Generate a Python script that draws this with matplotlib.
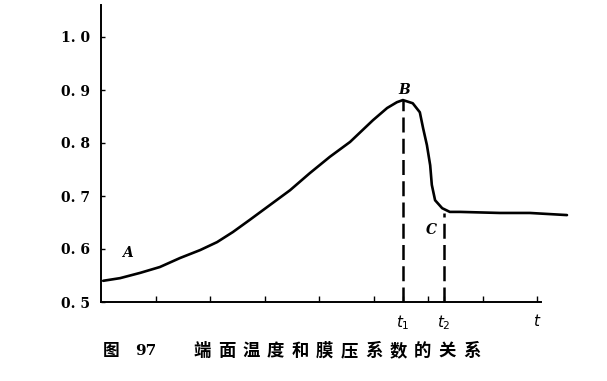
import numpy as np
import matplotlib
matplotlib.use("Agg")
import matplotlib.pyplot as plt

# ---- data ----
t_vals = [0.04, 0.35, 0.72, 1.08, 1.45, 1.82, 2.13, 2.42, 2.73, 3.10, 3.47,
          3.83, 4.20, 4.57, 4.99, 5.25, 5.43, 5.54, 5.72, 5.85, 5.91, 5.98,
          6.04, 6.07, 6.13, 6.26, 6.40, 6.59, 7.32, 7.87, 8.55]
k_vals = [0.540, 0.545, 0.555, 0.566, 0.583, 0.598, 0.613, 0.632, 0.655,
          0.683, 0.711, 0.743, 0.774, 0.802, 0.843, 0.866, 0.877, 0.881,
          0.875, 0.858, 0.828, 0.796, 0.758, 0.721, 0.692, 0.677, 0.670,
          0.670, 0.668, 0.668, 0.664]

t_marks = [5.54, 6.29]          # t1, t2
k_marks = [0.881, 0.668]        # B, C
grid_ticks = [1, 2, 3, 4, 5, 6, 7, 8]
y_ticks = [0.5, 0.6, 0.7, 0.8, 0.9, 1.0]
y_labels = ["0. 5", "0. 6", "0. 7", "0. 8", "0. 9", "1. 0"]
caption_head = ["图", "97"]
caption = "端面温度和膜压系数的关系"

W, H = 607, 381
fig = plt.figure(figsize=(W / 100, H / 100), dpi=100)
ax = fig.add_axes([101 / W, 1 - 302 / H, 440 / W, 297 / H])

ax.set_xlim(0, 440 / 54.5)
ax.set_ylim(0.5, 0.5 + 297 / 530)

# curve
ax.plot(t_vals, k_vals, color="k", lw=1.9, clip_on=False,
        solid_capstyle="round", solid_joinstyle="round")

# dashed drop lines
for t, k in zip(t_marks, k_marks):
    ax.plot([t, t], [0.5, k], color="k", lw=1.8, ls=(0, (6, 2.5)))

# spines
for s in ["top", "right"]:
    ax.spines[s].set_visible(False)
ax.spines["left"].set_linewidth(1.4)
ax.spines["bottom"].set_linewidth(1.4)

# ticks
ax.set_yticks(y_ticks)
ax.set_yticklabels(y_labels, family="DejaVu Serif", fontweight="bold",
                   fontsize=10)
ax.tick_params(axis="y", direction="in", length=3, width=1, pad=8)

xt = grid_ticks + t_marks
xl = [""] * 7 + [r"$t$"] + [r"$t_1$", r"$t_2$"]
ax.set_xticks(xt)
ax.set_xticklabels(xl, fontsize=11)
ax.tick_params(axis="x", direction="in", length=4, width=1, pad=8)

# point labels
ax.text(0.38, 0.585, "A", style="italic", fontweight="bold",
        family="DejaVu Serif", fontsize=10)
ax.text(t_marks[0] - 0.08, k_marks[0] + 0.012, "B", style="italic",
        fontweight="bold", family="DejaVu Serif", fontsize=10)
ax.text(t_marks[1] - 0.32, k_marks[1] - 0.04, "C", style="italic",
        fontweight="bold", family="DejaVu Serif", fontsize=10)

# caption
cy = 1 - 351 / H
fig.text(111 / W, cy, caption_head[0], family=["Noto Sans CJK SC"],
         fontweight="bold", fontsize=12, ha="center", va="center")
fig.text(146 / W, cy, caption_head[1], family=["DejaVu Serif"],
         fontweight="bold", fontsize=11, ha="center", va="center")
for i, ch in enumerate(caption):
    fig.text((202 + i * 24.5) / W, cy, ch, family=["Noto Sans CJK SC"],
             fontweight="bold", fontsize=12.5, ha="center", va="center")

fig.savefig("out.png", dpi=100)
